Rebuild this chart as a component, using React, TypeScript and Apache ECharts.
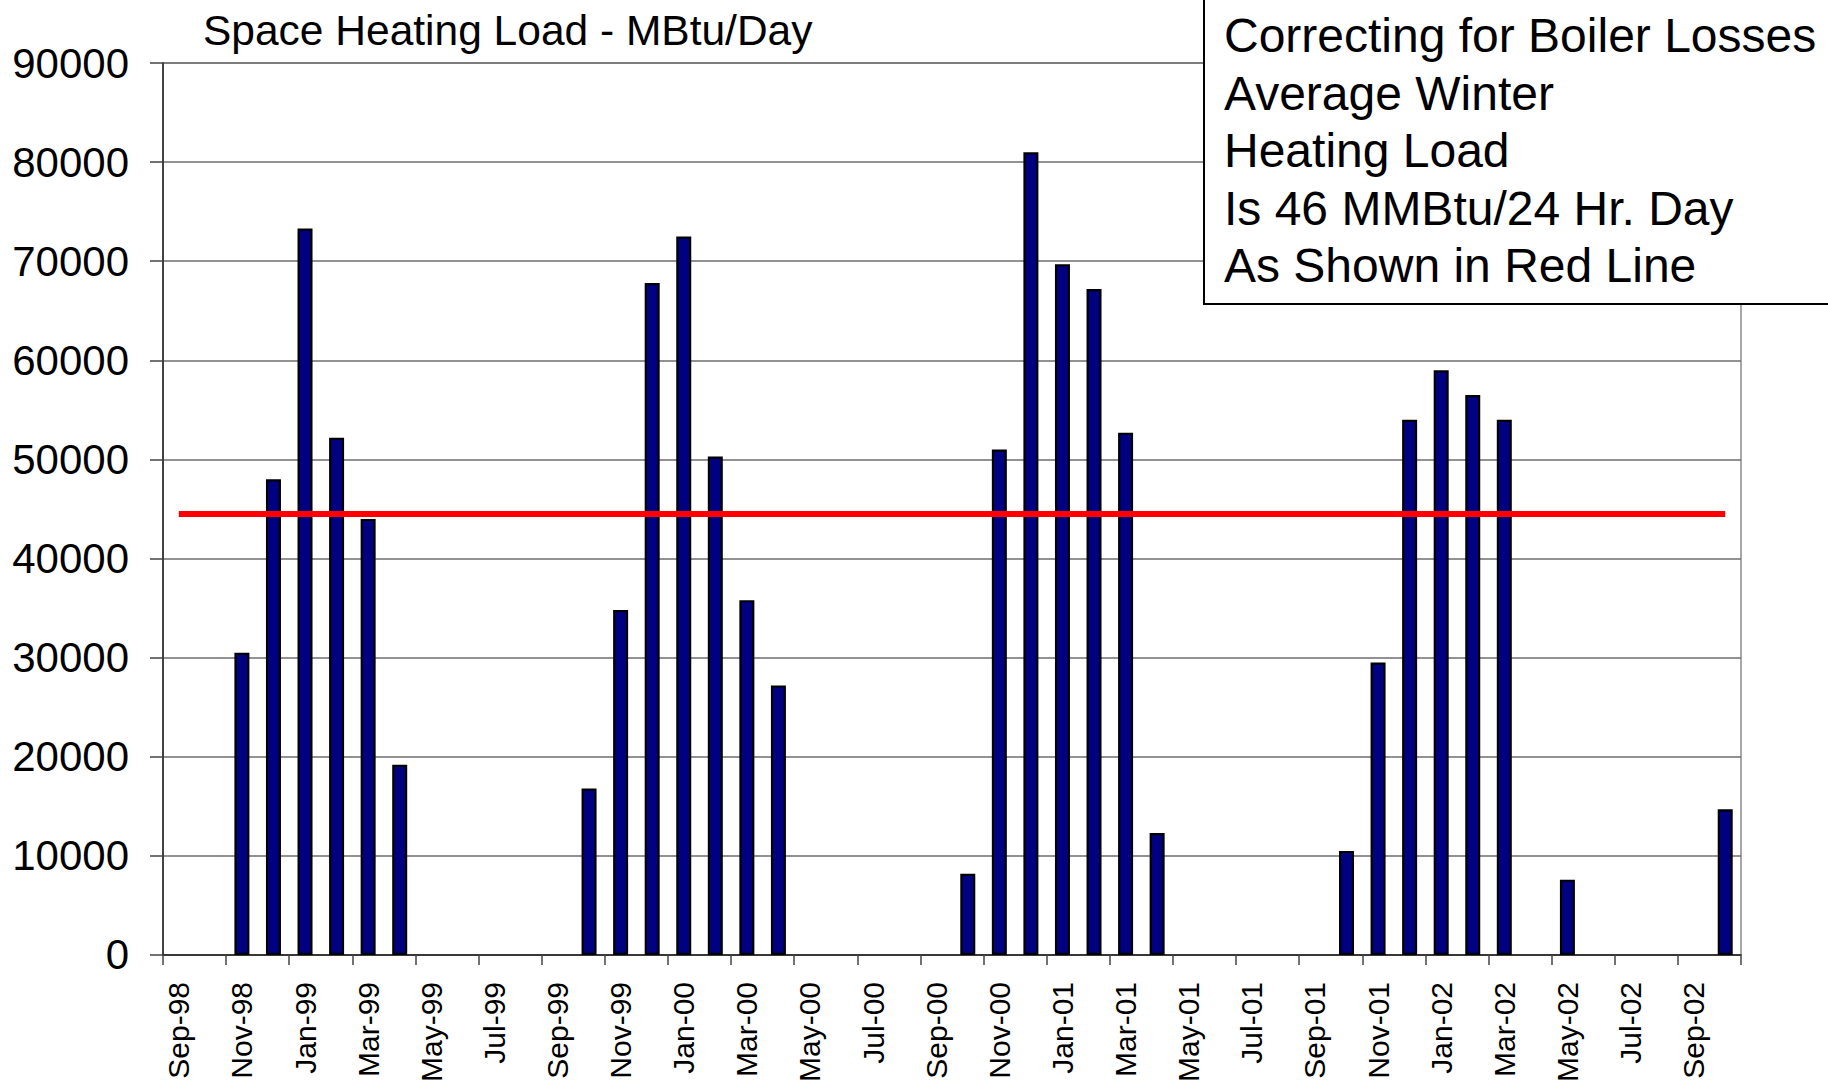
import React, { useEffect, useRef } from "react";
import * as echarts from "echarts";

const months: string[] = [
  "Sep-98", "Oct-98", "Nov-98", "Dec-98", "Jan-99", "Feb-99", "Mar-99", "Apr-99", "May-99", "Jun-99", "Jul-99", "Aug-99",
  "Sep-99", "Oct-99", "Nov-99", "Dec-99", "Jan-00", "Feb-00", "Mar-00", "Apr-00", "May-00", "Jun-00", "Jul-00", "Aug-00",
  "Sep-00", "Oct-00", "Nov-00", "Dec-00", "Jan-01", "Feb-01", "Mar-01", "Apr-01", "May-01", "Jun-01", "Jul-01", "Aug-01",
  "Sep-01", "Oct-01", "Nov-01", "Dec-01", "Jan-02", "Feb-02", "Mar-02", "Apr-02", "May-02", "Jun-02", "Jul-02", "Aug-02",
  "Sep-02", "Oct-02",
];

const heatingLoad: number[] = [
  0, 0, 30500, 48000, 73300, 52200, 44000, 19200, 0, 0, 0, 0,
  0, 16800, 34800, 67800, 72500, 50300, 35800, 27200, 0, 0, 0, 0,
  0, 8200, 51000, 81000, 69700, 67200, 52700, 12300, 0, 0, 0, 0,
  0, 10500, 29500, 54000, 59000, 56500, 54000, 0, 7600, 0, 0, 0,
  0, 14700,
];

const averageLoad = 44500;

const chartTitle = "Space Heating Load - MBtu/Day";
const noteLines: string[] = [
  "Correcting for Boiler Losses",
  "Average Winter",
  "Heating Load",
  "Is 46 MMBtu/24 Hr. Day",
  "As Shown in Red Line",
];

const FONT = '"Liberation Sans", Arial, Helvetica, sans-serif';

export default function App() {
  const ref = useRef<HTMLDivElement>(null);

  useEffect(() => {
    if (!ref.current) return;
    const chart = echarts.init(ref.current, undefined, { renderer: "svg" });
    chart.setOption({
      animation: false,
      backgroundColor: "#ffffff",
      textStyle: { fontFamily: FONT },
      grid: {
        left: 163,
        right: 87,
        top: 63,
        bottom: 130,
        show: true,
        borderColor: "#8a8a8a",
        borderWidth: 1.5,
        backgroundColor: "#ffffff",
      },
      xAxis: {
        type: "category",
        data: months,
        boundaryGap: true,
        axisLine: { show: true, lineStyle: { color: "#222", width: 1.5 } },
        axisTick: {
          show: true,
          interval: 1,
          alignWithLabel: false,
          length: 10,
          lineStyle: { color: "#444", width: 1.5 },
        },
        axisLabel: {
          interval: 1,
          rotate: 90,
          margin: 27,
          fontSize: 30,
          color: "#000",
          fontFamily: FONT,
        },
        splitLine: { show: false },
      },
      yAxis: {
        type: "value",
        min: 0,
        max: 90000,
        interval: 10000,
        axisLine: { show: true, lineStyle: { color: "#222", width: 1.5 } },
        axisTick: { show: true, length: 13, lineStyle: { color: "#444", width: 1.5 } },
        axisLabel: {
          margin: 34,
          fontSize: 42,
          color: "#000",
          fontFamily: FONT,
          formatter: (v: number) => String(v),
        },
        splitLine: { show: true, lineStyle: { color: "#6e6e6e", width: 1.5 } },
      },
      series: [
        {
          type: "bar",
          data: heatingLoad.map((v) => (v === 0 ? null : v)),
          barWidth: 15,
          itemStyle: { color: "#000080", borderColor: "#000000", borderWidth: 2.2 },
          markLine: {
            silent: true,
            symbol: ["none", "none"],
            label: { show: false },
            lineStyle: { color: "#ff0000", width: 6, type: "solid", cap: "butt" },
            data: [
              [
                { coord: [months[0], averageLoad] },
                { coord: [months[months.length - 1], averageLoad] },
              ],
            ],
          },
        },
      ],
      graphic: [
        {
          type: "text",
          x: 203,
          y: 30,
          style: {
            text: chartTitle,
            fontSize: 42.5,
            fontFamily: FONT,
            fill: "#000",
            align: "left",
            verticalAlign: "middle",
          },
        },
        {
          type: "rect",
          shape: { x: 1204, y: -10, width: 640, height: 314 },
          style: { fill: "#ffffff", stroke: "#000000", lineWidth: 2 },
          z: 10,
        },
        {
          type: "text",
          x: 1224,
          y: 7,
          z: 11,
          style: {
            text: noteLines.join("\n"),
            fontSize: 48,
            lineHeight: 57.5,
            fontFamily: FONT,
            fill: "#000",
            align: "left",
            verticalAlign: "top",
          },
        },
      ],
    });
    return () => chart.dispose();
  }, []);

  return (
    <div
      ref={ref}
      style={{ position: "fixed", left: 0, top: 0, width: 1828, height: 1085 }}
    />
  );
}
